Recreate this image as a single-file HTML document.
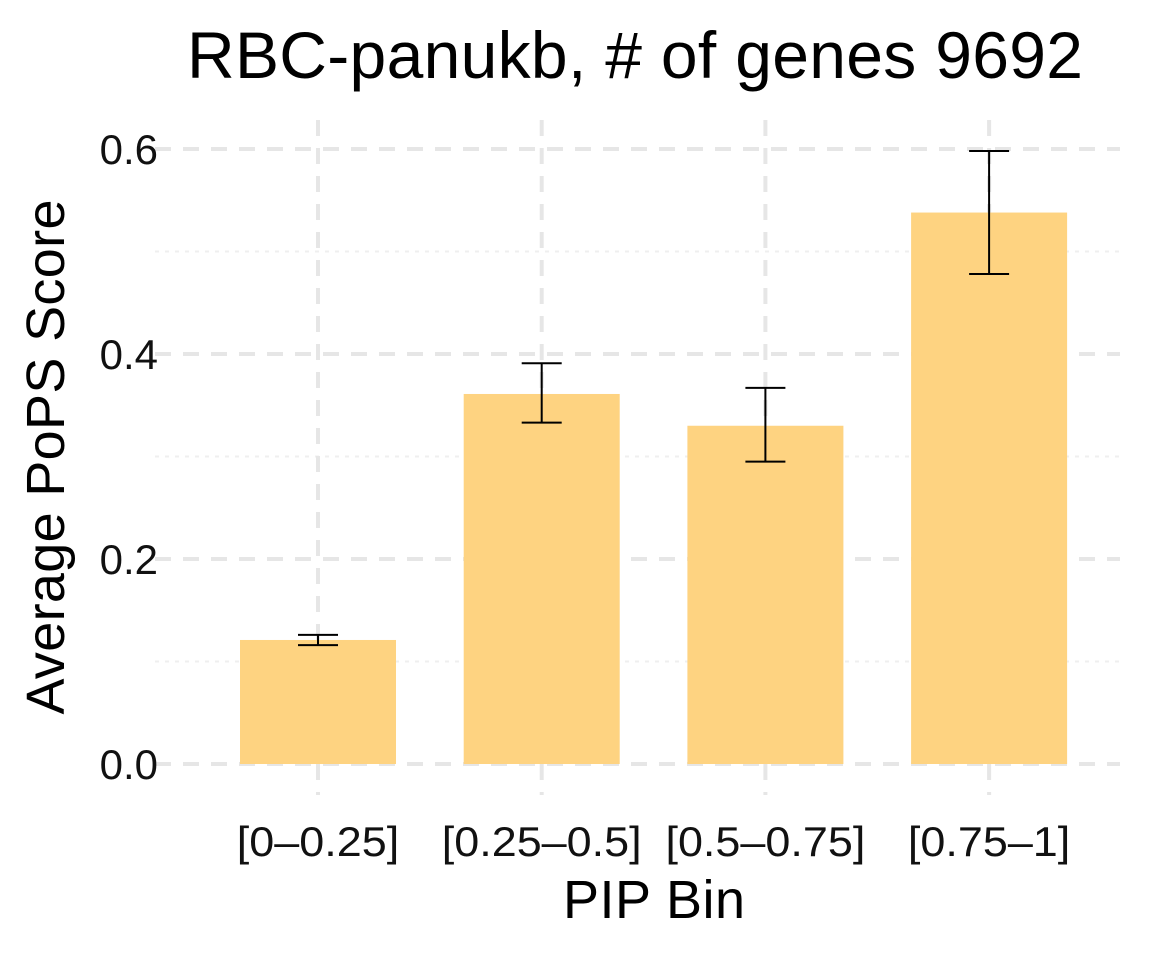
<!DOCTYPE html>
<html><head><meta charset="utf-8"><style>
body{margin:0;background:#fff;}
svg text{font-family:"Liberation Sans",Arial,sans-serif;}
</style></head><body>
<svg id="chart" width="1152" height="960">
<text x="635" y="78" font-size="66" text-anchor="middle" textLength="896">RBC-panukb, # of genes 9692</text>
<text transform="translate(64,457) rotate(-90)" font-size="54" text-anchor="middle" textLength="515">Average PoPS Score</text>
<text x="654" y="918" font-size="54" text-anchor="middle" textLength="182">PIP Bin</text>
<g id="grid"></g><g id="bars"></g><g id="axes"></g>
</svg>
<script>
const categories=["[0–0.25]","[0.25–0.5]","[0.5–0.75]","[0.75–1]"];
const values=[0.121,0.361,0.330,0.538];
const errLow=[0.116,0.333,0.295,0.478];
const errHigh=[0.126,0.391,0.367,0.598];
const yTicks=[0,0.2,0.4,0.6];
const yTickLabels=["0.0","0.2","0.4","0.6"];
const yMinor=[0.1,0.3,0.5];
const NS="http://www.w3.org/2000/svg";
const y=v=>764-v*1025;
const x=i=>318+i*223.7;
const bw=156;
function mk(tag,attrs,parent){const e=document.createElementNS(NS,tag);for(const k in attrs)e.setAttribute(k,attrs[k]);parent.appendChild(e);return e;}
const grid=document.getElementById('grid'),bars=document.getElementById('bars'),axes=document.getElementById('axes');
yMinor.forEach(v=>{const l=mk('line',{x1:155,x2:1120,y1:y(v),y2:y(v),stroke:'#efefef','stroke-width':2,'stroke-dasharray':'4,6'},grid);

});
yTicks.forEach((v,i)=>{const l=mk('line',{x1:155,x2:1120,y1:y(v),y2:y(v),stroke:'#e6e6e6','stroke-width':4,'stroke-dasharray':'16,12'},grid);


const t=mk('text',{x:158,y:y(v)+15,'font-size':42,'text-anchor':'end',fill:'#111'},axes);t.textContent=yTickLabels[i];

});
categories.forEach((c,i)=>{const l=mk('line',{x1:x(i),x2:x(i),y1:120,y2:795,stroke:'#e6e6e6','stroke-width':4,'stroke-dasharray':'16,12'},grid);


const t=mk('text',{x:x(i),y:856,'font-size':42,'text-anchor':'middle',fill:'#111',transform:`translate(${x(i)},0) scale(1.07,1) translate(${-x(i)},0)`},axes);t.textContent=c;


const r=mk('rect',{x:x(i)-bw/2,y:y(values[i]),width:bw,height:y(0)-y(values[i]),fill:'#fed381'},bars);


const g=mk('g',{stroke:'#000','stroke-width':2},bars);


mk('line',{x1:x(i),x2:x(i),y1:y(errLow[i]),y2:y(errHigh[i])},g);
mk('line',{x1:x(i)-20,x2:x(i)+20,y1:y(errLow[i]),y2:y(errLow[i])},g);
mk('line',{x1:x(i)-20,x2:x(i)+20,y1:y(errHigh[i]),y2:y(errHigh[i])},g);});
</script>
</body></html>
